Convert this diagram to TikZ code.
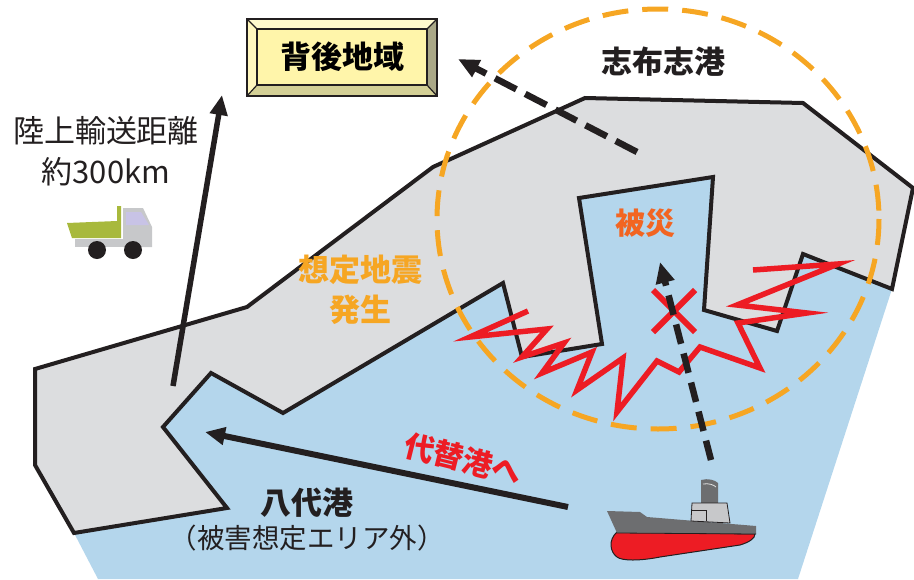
\documentclass[tikz,border=0pt]{standalone}
\usepackage{fontspec}
\newfontfamily\jpfont{Noto Sans CJK JP}
\usetikzlibrary{arrows.meta}

\definecolor{sea}{RGB}{180,214,236}
\definecolor{land}{RGB}{220,221,223}
\definecolor{ink}{RGB}{35,31,32}
\definecolor{quake}{RGB}{246,166,35}
\definecolor{alert}{RGB}{237,28,36}
\definecolor{damage}{RGB}{242,101,34}
\definecolor{plaque}{RGB}{255,245,170}
\definecolor{bevtop}{RGB}{255,250,205}
\definecolor{bevleft}{RGB}{255,247,190}
\definecolor{bevbottom}{RGB}{212,208,150}
\definecolor{bevright}{RGB}{170,168,135}
\definecolor{hullgray}{RGB}{109,110,112}
\definecolor{cabingray}{RGB}{199,200,202}
\definecolor{truckgreen}{RGB}{168,185,60}
\definecolor{glass}{RGB}{200,195,230}

\tikzset{
  jp/.style={font={\jpfont\fontsize{#1}{1.3*#1}\selectfont}, inner sep=0pt},
  coast/.style={draw=ink, line width=4, line join=miter, fill=land},
  quakezone/.style={draw=quake, line width=5, dash pattern=on 26 off 14},
  fault/.style={draw=alert, line width=5.5, line join=miter, miter limit=20},
  route/.style={draw=ink, line width=5.5, -{Triangle[length=20,width=17]}},
  dashroute/.style={draw=ink, line width=6.5, dash pattern=on 20 off 10, -{Triangle[length=21,width=18]}},
}

\begin{document}
\begin{tikzpicture}[x=1pt, y=-1pt]
\useasboundingbox (0,0) rectangle (914,579);

% sea
\fill[sea] (98,579) -- (74,533) -- (227,508) -- (163,427) -- (211,373) -- (283,413)
  -- (503,283) -- (579,198) -- (713,177) -- (803,254) -- (892,289) -- (798,579) -- cycle;

% land with the two bays
\path[coast] (35,369) -- (35,465) -- (74,533) -- (227,508) -- (163,427) -- (211,373)
  -- (283,413) -- (503,283) -- (522,357) -- (602,344) -- (579,198) -- (713,177)
  -- (704,310) -- (777,331) -- (803,254) -- (892,289) -- (913,188) -- (803,103)
  -- (585,98) -- (433,167) -- (247,307) -- cycle;

% expected earthquake zone
\draw[quakezone] (658,219) ellipse [x radius=221, y radius=210];

% damaged coastline
\draw[fault] (528,311) -- (470,337) -- (547,329) -- (522,357) -- (564,343) -- (542,373)
  -- (592,352) -- (577,390) -- (623,358) -- (617,412) -- (657,361) -- (679,372)
  -- (700,347) -- (760,368) -- (738,323) -- (807,313) -- (737,305) -- (838,264) -- (753,270);

% closed port mark
\draw[alert, line width=6] (653,290) -- (695,332) (695,290) -- (653,332);

% plaque: hinterland
\fill[bevtop] (247,19) -- (437,19) -- (427,29) -- (257,29) -- cycle;
\fill[bevleft] (247,19) -- (257,29) -- (257,85) -- (247,96) -- cycle;
\fill[bevbottom] (247,96) -- (437,96) -- (427,85) -- (257,85) -- cycle;
\fill[bevright] (437,19) -- (437,96) -- (427,85) -- (427,29) -- cycle;
\fill[plaque] (257,29) rectangle (427,85);
\draw[ink, line width=1.2] (247,19) -- (257,29) (437,19) -- (427,29) (247,96) -- (257,85) (437,96) -- (427,85);
\draw[ink, line width=2] (257,29) rectangle (427,85);
\draw[ink, line width=2.5] (247,19) rectangle (437,96);
\node[jp=31, font={\jpfont\bfseries\fontsize{31}{36}\selectfont}] (hinter) at (342,57) {背後地域};

% truck
\fill[truckgreen] (67,223) -- (117,221) -- (117,206) -- (121,206) -- (121,238) -- (72,238) -- cycle;
\fill[cabingray] (75,239) rectangle (152,247);
\fill[cabingray] (123,208) -- (143,208) -- (152,227) -- (152,247) -- (123,247) -- cycle;
\fill[glass] (126,212) -- (141,212) -- (149,225) -- (126,225) -- cycle;
\fill[ink] (97,250) circle (9);
\fill[ink] (133,250) circle (9);

% ship
\path[fill=alert, draw=ink, line width=1] (617,532) .. controls (608,540) and (610,552) .. (617,557)
  .. controls (622,561) and (640,561) .. (660,557) -- (740,545) .. controls (750,542) and (755,538) .. (755,534) -- cycle;
\fill[hullgray] (607,511) -- (640,512) -- (647,517) -- (756,526) -- (756,534) -- (617,533) -- cycle;
\draw[ink, line width=0.8] (617,533) -- (756,534);
\fill[hullgray] (701,480) .. controls (708,478) and (715,480) .. (718,483) -- (718,503) -- (701,503) -- cycle;
\draw[white!80!hullgray, line width=0.8] (703,484) .. controls (709,483) and (714,485) .. (716,487);
\path[fill=cabingray, draw=ink, line width=0.8] (692,503) -- (727,503) -- (730,523) -- (691,521) -- cycle;
\draw[ink, line width=0.8] (692,510) -- (706,510) -- (706,521);

% arrows
\coordinate (roadS) at (173,386);
\coordinate (roadN) at (222,95);
\draw[route] (roadS) -- (roadN);

\coordinate (shipbow) at (568,507);
\coordinate (yatsushiro) at (205,432);
\draw[route, line width=6] (shipbow) -- (yatsushiro);

\coordinate (shipstack) at (711,460);
\coordinate (damagedbay) at (660,262);
\draw[dashroute] (shipstack) -- (damagedbay);

\coordinate (shibushi) at (637,152);
\coordinate (inland) at (458,59);
\draw[dashroute, dash pattern=on 24 off 10] (shibushi) -- (inland);

% labels
\node[jp=31, font={\jpfont\bfseries\fontsize{31}{36}\selectfont}, text=ink] (portname) at (663,62) {志布志港};
\node[jp=31, text=ink, align=center, font={\jpfont\fontsize{31}{41}\selectfont}] (distance) at (106,151) {陸上輸送距離\\約300km};
\node[jp=31, text=quake, align=center, font={\jpfont\bfseries\fontsize{31}{40}\selectfont}] (quakelabel) at (360,290) {想定地震\\発生};
\node[jp=30, text=damage, font={\jpfont\bfseries\fontsize{30}{36}\selectfont}] (hit) at (645,223) {被災};
\node[jp=30, text=alert, rotate=-14, font={\jpfont\bfseries\fontsize{30}{36}\selectfont}] (alt) at (463,459) {代替港へ};
\node[jp=31, text=ink, font={\jpfont\bfseries\fontsize{31}{36}\selectfont}] (yport) at (307,503) {八代港};
\node[jp=27, text=ink, font={\jpfont\fontsize{27.5}{32}\selectfont}] (ynote) at (307,538) {（被害想定エリア外）};
\end{tikzpicture}
\end{document}
